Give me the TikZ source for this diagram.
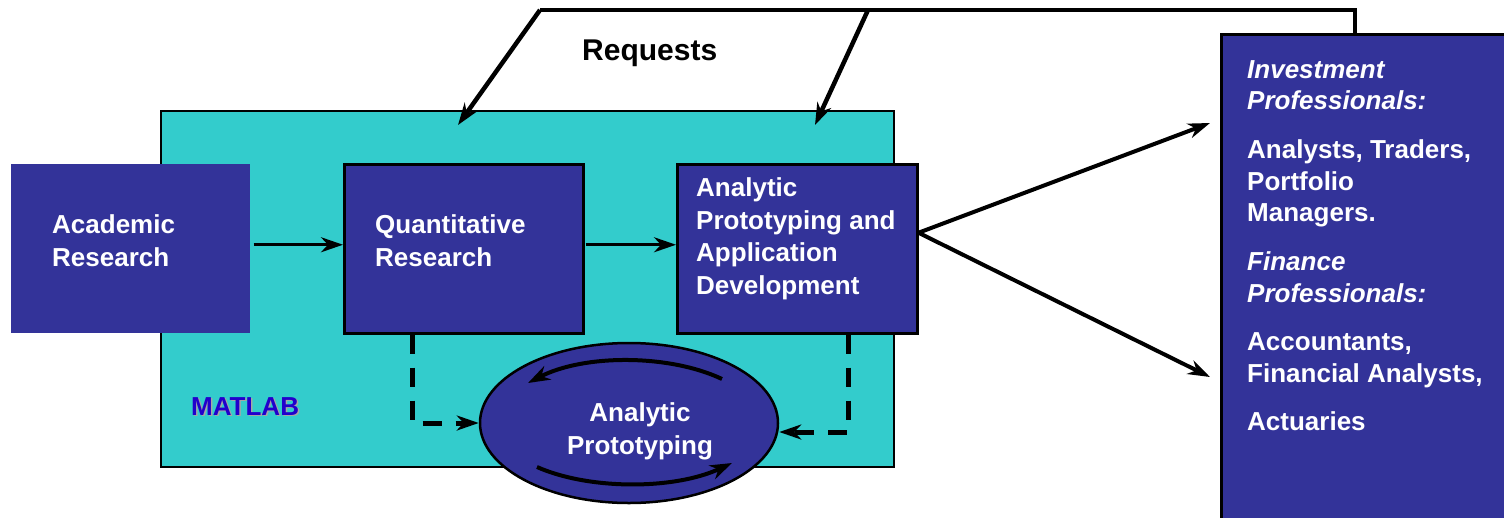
\documentclass[tikz,border=0pt]{standalone}
\usepackage{fontspec}
\setmainfont{Liberation Sans}
\usetikzlibrary{arrows.meta,calc,shapes.geometric}
\definecolor{boxblue}{HTML}{333399}
\definecolor{matcyan}{HTML}{33CCCC}
\definecolor{matlabblue}{HTML}{2200CC}
\begin{document}
\begin{tikzpicture}[x=1pt,y=-1pt,
  >={Stealth[length=22pt,width=15pt,inset=7pt]},
  bluebox/.style={fill=boxblue,draw=black,line width=2.5pt,inner sep=0pt,anchor=north west},
  lbl/.style={text=white,font=\fontsize{26}{32.5}\selectfont\bfseries,align=left,inner sep=0pt,anchor=base west},
  flow/.style={->,line width=3pt},
  heavy/.style={->,line width=4.5pt},
  fanout/.style={->,line width=4pt},
  dashflow/.style={->,line width=5pt,dash pattern=on 19pt off 14pt},
  loop/.style={->,line width=4pt}]
\path[use as bounding box] (0,0) rectangle (1504,517);
\clip (0,0) rectangle (1504,517);

% MATLAB environment
\node[fill=matcyan,draw=black,line width=2pt,minimum width=733pt,minimum height=356pt,inner sep=0pt,anchor=north west] (matlab) at (160,110) {};
\node[text=gray!70,font=\fontsize{26}{30}\selectfont\bfseries,inner sep=0pt,anchor=base west] (matlabsh) at (192.5,416.5) {MATLAB};
\node[text=matlabblue,font=\fontsize{26}{30}\selectfont\bfseries,inner sep=0pt,anchor=base west] (matlabtxt) at (191,415) {MATLAB};

% process boxes (the base anchor of a multi-line label is its last baseline)
\node[bluebox,draw=none,minimum width=239pt,minimum height=169pt] (acad) at (10,163) {};
\node[bluebox,minimum width=239pt,minimum height=169pt] (quant) at (343,163) {};
\node[bluebox,minimum width=240pt,minimum height=169pt] (app) at (676,163) {};
\node[lbl] (acadtxt) at (52,266) {Academic\\Research};
\node[lbl] (quanttxt) at (375,266) {Quantitative\\Research};
\node[lbl] (apptxt) at (696,294) {Analytic\\Prototyping and\\Application\\Development};

% prototyping loop
\node[ellipse,fill=boxblue,draw=black,line width=2.5pt,minimum width=298pt,minimum height=160pt,inner sep=0pt] (proto) at (629,423) {};
\node[lbl,align=center,anchor=base] (prototxt) at (640,454) {Analytic\\Prototyping};
\coordinate (la) at ($(proto.center)+(93,-44)$);
\coordinate (lb) at ($(proto.center)+(-101,-40)$);
\coordinate (lc) at ($(proto.center)+(-92,44)$);
\coordinate (ld) at ($(proto.center)+(103,40)$);
\draw[loop] (la) .. controls ($(proto.center)+(40,-69)$) and ($(proto.center)+(-45,-69)$) .. (lb);
\draw[loop] (lc) .. controls ($(proto.center)+(-40,67)$) and ($(proto.center)+(45,67)$) .. (ld);

% users of the results
\node[fill=boxblue,draw=black,line width=2.5pt,minimum width=300pt,minimum height=500pt,inner sep=0pt,anchor=north west] (users) at (1220,33) {};
\node[lbl,font=\fontsize{26}{31.5}\selectfont\bfseries] (userstxt) at (1247,430)
  {\itshape Investment\\\itshape Professionals:\\[17.5pt]
   Analysts, Traders,\\Portfolio\\Managers.\\[17.5pt]
   \itshape Finance\\\itshape Professionals:\\[17pt]
   Accountants,\\Financial Analysts,\\[16.5pt]Actuaries};

% main flow
\draw[flow] ($(acad.east)+(2,-4)$) -- ($(quant.west)+(0,-4)$);
\draw[flow] ($(quant.east)+(1,-4)$) -- ($(app.west)+(0,-4)$);
\draw[dashflow] ($(quant.south west)+(69,0)$) |- (proto.west);
\draw[dashflow] ($(app.south west)+(172,0)$) |- ($(proto.east)+(0,9)$);
\coordinate (fan) at ($(app.east)+(0,-16)$);
\draw[fanout] (fan) -- ($(users.north west)+(-10,90)$);
\draw[fanout] (fan) -- ($(users.north west)+(-10,344)$);

% requests back into MATLAB
\coordinate (ra) at (540,10);
\coordinate (rb) at (868,10);
\coordinate (rc) at (1355,10);
\draw[line width=4pt,line join=miter] ($(users.north west)+(135,0)$) -- (rc) -- (ra);
\draw[heavy] (ra) -- (458,125);
\draw[heavy] (rb) -- (815,125);
\node[font=\fontsize{30}{34}\selectfont\bfseries,inner sep=0pt,anchor=base west] (req) at (582,60) {Requests};
\end{tikzpicture}
\end{document}
